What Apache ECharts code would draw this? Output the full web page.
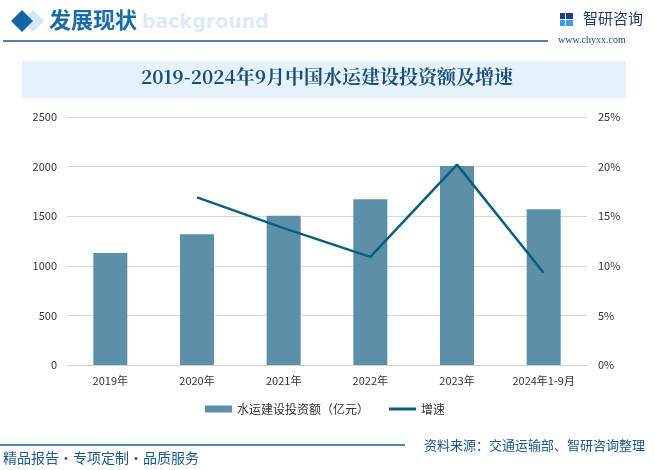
<!DOCTYPE html>
<html>
<head>
<meta charset="utf-8">
<script src="https://cdn.jsdelivr.net/npm/echarts@6/dist/echarts.min.js"></script>
<style>html,body{margin:0;padding:0;background:#fff;}#c{width:654px;height:470px;}</style>
</head>
<body>
<div id="c"></div>
<script>
var categories = ['2019年', '2020年', '2021年', '2022年', '2023年', '2024年1-9月'];
var investment = [1128, 1318, 1505, 1672, 2006, 1570];
var growth = [null, 16.9, 13.8, 10.9, 20.2, 9.3];
var leftTicks = [0, 500, 1000, 1500, 2000, 2500];
var rightTicks = [0, 5, 10, 15, 20, 25];

var chart = echarts.init(document.getElementById('c'));
var dark = '#1a5a8a';
var font = '"Noto Sans CJK SC", "Noto Sans", sans-serif';
chart.setOption({
  backgroundColor: '#fff',
  animation: false,
  textStyle: { fontFamily: font },
  graphic: [
    { type: 'rect', shape: { x: 22, y: 61, width: 604, height: 37 }, style: { fill: '#e6f2fb' } },
    { type: 'text', left: 'center', top: 67, style: { text: '2019-2024年9月中国水运建设投资额及增速', font: 'bold 19px "Noto Serif CJK SC", "Noto Sans CJK SC", serif', fill: '#1b4f7a' } },
    { type: 'polygon', shape: { points: [[33, 10], [44, 21], [33, 32], [22, 21]] }, style: { fill: '#d4e6f4' } },
    { type: 'polygon', shape: { points: [[22, 10], [33, 21], [22, 32], [11, 21]] }, style: { fill: '#1565a5' } },
    { type: 'text', x: 80, y: 14, style: { text: 'ment background', font: 'bold 19px "DejaVu Sans", sans-serif', fill: '#dcebf7' } },
    { type: 'text', x: 49, y: 9, style: { text: '发展现状', font: 'bold 22px "Noto Sans CJK SC", sans-serif', fill: '#1a6aa5' } },
    { type: 'line', shape: { x1: 3, y1: 41, x2: 548, y2: 41 }, style: { stroke: dark, lineWidth: 1.5 } },
    { type: 'rect', shape: { x: 560, y: 13, width: 5, height: 6 }, style: { fill: '#1a3f8a' } },
    { type: 'rect', shape: { x: 566, y: 13, width: 7, height: 6 }, style: { fill: '#1a3f8a' } },
    { type: 'rect', shape: { x: 560, y: 20, width: 5, height: 6 }, style: { fill: '#3aa0e0' } },
    { type: 'rect', shape: { x: 566, y: 20, width: 7, height: 6 }, style: { fill: '#3aa0e0' } },
    { type: 'text', x: 583, y: 11, style: { text: '智研咨询', font: '15px "Noto Sans CJK SC", sans-serif', fill: '#1a3f6a' } },
    { type: 'text', x: 558, y: 35, style: { text: 'www.chyxx.com', font: '10px "Liberation Serif", serif', fill: '#1a4a7a' } },
    { type: 'line', shape: { x1: 0, y1: 445, x2: 405, y2: 445 }, style: { stroke: dark, lineWidth: 1.5 } },
    { type: 'text', x: 3, y: 451, style: { text: '精品报告·专项定制·品质服务', font: '14px "Noto Sans CJK SC", sans-serif', fill: dark } },
    { type: 'text', right: 9, y: 439, style: { text: '资料来源：交通运输部、智研咨询整理', font: '13px "Noto Sans CJK SC", sans-serif', fill: dark } }
  ],
  legend: {
    bottom: 50, left: 200, itemGap: 20, itemWidth: 27, itemHeight: 7,
    textStyle: { fontSize: 12, color: '#333' },
    data: [
      { name: '水运建设投资额（亿元）', icon: 'rect' },
      { name: '增速', icon: 'path://M0,0h27v3h-27z' }
    ]
  },
  grid: { left: 67, right: 67, top: 117, bottom: 105 },
  xAxis: {
    type: 'category', data: categories,
    axisLine: { lineStyle: { color: '#d0d0d0' } }, axisTick: { show: false },
    axisLabel: { color: '#333', fontSize: 11, margin: 10, interval: 0 }
  },
  yAxis: [
    { type: 'value', min: 0, max: 2500, interval: 500,
      axisLabel: { color: '#333', fontSize: 11, margin: 10, formatter: function (v) { return String(v); } },
      axisLine: { show: false }, axisTick: { show: false },
      splitLine: { lineStyle: { color: '#d9d9d9' } } },
    { type: 'value', min: 0, max: 25, interval: 5,
      axisLabel: { color: '#333', fontSize: 11, margin: 11, formatter: '{value}%' },
      axisLine: { show: false }, axisTick: { show: false },
      splitLine: { show: false } }
  ],
  series: [
    { name: '水运建设投资额（亿元）', type: 'bar', data: investment, barWidth: 34, itemStyle: { color: '#5b90a8' } },
    { name: '增速', type: 'line', yAxisIndex: 1, data: growth, symbol: 'none', lineStyle: { width: 2.5, color: '#0a5e80' }, itemStyle: { color: '#0a5e80' } }
  ]
});
</script>
</body>
</html>
